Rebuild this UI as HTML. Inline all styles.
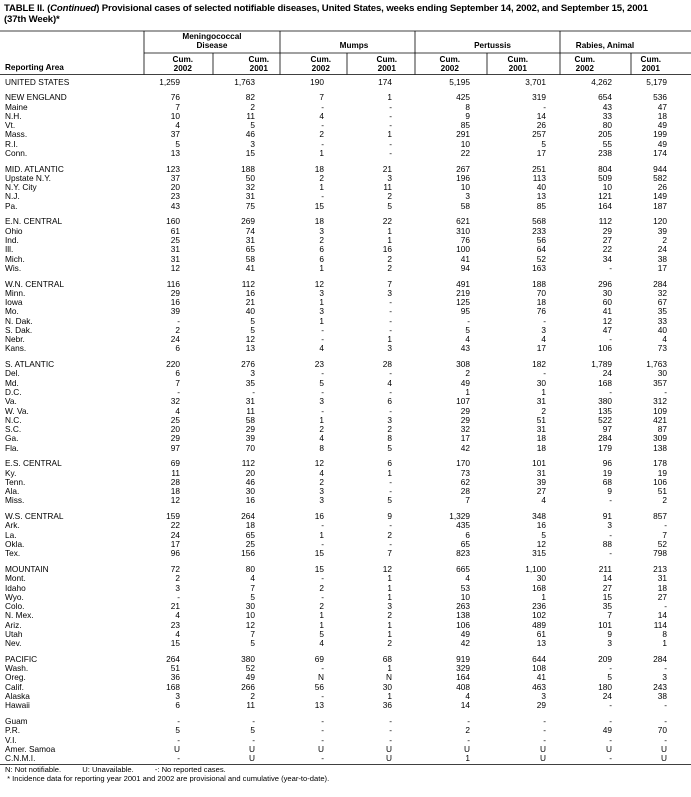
<!DOCTYPE html>
<html><head><meta charset="utf-8"><style>
html,body{margin:0;padding:0;background:#fff;width:691px;height:797px;overflow:hidden;font-family:"Liberation Sans",Arial,sans-serif;color:#000}
.t{position:absolute;left:4px;font-size:9.6px;font-weight:bold;letter-spacing:-0.15px;line-height:11px}
.h{position:absolute;font-size:8.2px;font-weight:bold;text-align:center;line-height:8.6px}
#rows{position:absolute;left:0;top:77.5px;width:691px}
.r{position:relative;height:9.28px;line-height:9.28px;font-size:8.3px}
.r.g{margin-top:6.5px}
.r span{position:absolute;top:0;text-align:right}
.r span.n{left:5px}
.c1{right:511px}.c2{right:436px}.c3{right:367px}.c4{right:299px}.c5{right:221px}.c6{right:145px}.c7{right:79px}.c8{right:24px}
.f{position:absolute;left:5px;font-size:7.6px;line-height:9px}
</style></head><body>
<div class="t" style="top:3px">TABLE II. (<i>Continued</i>) Provisional cases of selected notifiable diseases, United States, weeks ending September 14, 2002, and September 15, 2001</div>
<div class="t" style="top:14px">(37th Week)*</div>
<svg width="691" height="797" style="position:absolute;left:0;top:0" xmlns="http://www.w3.org/2000/svg">
<g stroke="#000" stroke-width="0.8">
<line x1="0" y1="31" x2="691" y2="31"/>
<line x1="0" y1="74.5" x2="691" y2="74.5"/>
<line x1="144" y1="53" x2="691" y2="53"/>
<line x1="144" y1="31" x2="144" y2="74.5"/>
<line x1="280" y1="31" x2="280" y2="74.5"/>
<line x1="415" y1="31" x2="415" y2="74.5"/>
<line x1="560" y1="31" x2="560" y2="74.5"/>
<line x1="213" y1="53" x2="213" y2="74.5"/>
<line x1="347" y1="53" x2="347" y2="74.5"/>
<line x1="487" y1="53" x2="487" y2="74.5"/>
<line x1="631" y1="53" x2="631" y2="74.5"/>
<line x1="0" y1="764.5" x2="691" y2="764.5"/>
</g></svg>
<div class="h" style="left:144px;width:136px;top:33px">Meningococcal<br>Disease</div>
<div class="h" style="left:280px;width:148px;top:42px">Mumps</div>
<div class="h" style="left:415px;width:155px;top:42px">Pertussis</div>
<div class="h" style="left:555px;width:100px;top:42px">Rabies, Animal</div>
<div class="h" style="left:5px;top:64px">Reporting Area</div>
<div class="h" style="right:498px;top:56px">Cum.<br>2002</div>
<div class="h" style="right:422px;top:56px">Cum.<br>2001</div>
<div class="h" style="right:360px;top:56px">Cum.<br>2002</div>
<div class="h" style="right:294px;top:56px">Cum.<br>2001</div>
<div class="h" style="right:231px;top:56px">Cum.<br>2002</div>
<div class="h" style="right:163px;top:56px">Cum.<br>2001</div>
<div class="h" style="right:96px;top:56px">Cum.<br>2002</div>
<div class="h" style="right:30px;top:56px">Cum.<br>2001</div>
<div id="rows">
<div class="r"><span class="n">UNITED STATES</span><span class="c1">1,259</span><span class="c2">1,763</span><span class="c3">190</span><span class="c4">174</span><span class="c5">5,195</span><span class="c6">3,701</span><span class="c7">4,262</span><span class="c8">5,179</span></div>
<div class="r g"><span class="n">NEW ENGLAND</span><span class="c1">76</span><span class="c2">82</span><span class="c3">7</span><span class="c4">1</span><span class="c5">425</span><span class="c6">319</span><span class="c7">654</span><span class="c8">536</span></div>
<div class="r"><span class="n">Maine</span><span class="c1">7</span><span class="c2">2</span><span class="c3">-</span><span class="c4">-</span><span class="c5">8</span><span class="c6">-</span><span class="c7">43</span><span class="c8">47</span></div>
<div class="r"><span class="n">N.H.</span><span class="c1">10</span><span class="c2">11</span><span class="c3">4</span><span class="c4">-</span><span class="c5">9</span><span class="c6">14</span><span class="c7">33</span><span class="c8">18</span></div>
<div class="r"><span class="n">Vt.</span><span class="c1">4</span><span class="c2">5</span><span class="c3">-</span><span class="c4">-</span><span class="c5">85</span><span class="c6">26</span><span class="c7">80</span><span class="c8">49</span></div>
<div class="r"><span class="n">Mass.</span><span class="c1">37</span><span class="c2">46</span><span class="c3">2</span><span class="c4">1</span><span class="c5">291</span><span class="c6">257</span><span class="c7">205</span><span class="c8">199</span></div>
<div class="r"><span class="n">R.I.</span><span class="c1">5</span><span class="c2">3</span><span class="c3">-</span><span class="c4">-</span><span class="c5">10</span><span class="c6">5</span><span class="c7">55</span><span class="c8">49</span></div>
<div class="r"><span class="n">Conn.</span><span class="c1">13</span><span class="c2">15</span><span class="c3">1</span><span class="c4">-</span><span class="c5">22</span><span class="c6">17</span><span class="c7">238</span><span class="c8">174</span></div>
<div class="r g"><span class="n">MID. ATLANTIC</span><span class="c1">123</span><span class="c2">188</span><span class="c3">18</span><span class="c4">21</span><span class="c5">267</span><span class="c6">251</span><span class="c7">804</span><span class="c8">944</span></div>
<div class="r"><span class="n">Upstate N.Y.</span><span class="c1">37</span><span class="c2">50</span><span class="c3">2</span><span class="c4">3</span><span class="c5">196</span><span class="c6">113</span><span class="c7">509</span><span class="c8">582</span></div>
<div class="r"><span class="n">N.Y. City</span><span class="c1">20</span><span class="c2">32</span><span class="c3">1</span><span class="c4">11</span><span class="c5">10</span><span class="c6">40</span><span class="c7">10</span><span class="c8">26</span></div>
<div class="r"><span class="n">N.J.</span><span class="c1">23</span><span class="c2">31</span><span class="c3">-</span><span class="c4">2</span><span class="c5">3</span><span class="c6">13</span><span class="c7">121</span><span class="c8">149</span></div>
<div class="r"><span class="n">Pa.</span><span class="c1">43</span><span class="c2">75</span><span class="c3">15</span><span class="c4">5</span><span class="c5">58</span><span class="c6">85</span><span class="c7">164</span><span class="c8">187</span></div>
<div class="r g"><span class="n">E.N. CENTRAL</span><span class="c1">160</span><span class="c2">269</span><span class="c3">18</span><span class="c4">22</span><span class="c5">621</span><span class="c6">568</span><span class="c7">112</span><span class="c8">120</span></div>
<div class="r"><span class="n">Ohio</span><span class="c1">61</span><span class="c2">74</span><span class="c3">3</span><span class="c4">1</span><span class="c5">310</span><span class="c6">233</span><span class="c7">29</span><span class="c8">39</span></div>
<div class="r"><span class="n">Ind.</span><span class="c1">25</span><span class="c2">31</span><span class="c3">2</span><span class="c4">1</span><span class="c5">76</span><span class="c6">56</span><span class="c7">27</span><span class="c8">2</span></div>
<div class="r"><span class="n">Ill.</span><span class="c1">31</span><span class="c2">65</span><span class="c3">6</span><span class="c4">16</span><span class="c5">100</span><span class="c6">64</span><span class="c7">22</span><span class="c8">24</span></div>
<div class="r"><span class="n">Mich.</span><span class="c1">31</span><span class="c2">58</span><span class="c3">6</span><span class="c4">2</span><span class="c5">41</span><span class="c6">52</span><span class="c7">34</span><span class="c8">38</span></div>
<div class="r"><span class="n">Wis.</span><span class="c1">12</span><span class="c2">41</span><span class="c3">1</span><span class="c4">2</span><span class="c5">94</span><span class="c6">163</span><span class="c7">-</span><span class="c8">17</span></div>
<div class="r g"><span class="n">W.N. CENTRAL</span><span class="c1">116</span><span class="c2">112</span><span class="c3">12</span><span class="c4">7</span><span class="c5">491</span><span class="c6">188</span><span class="c7">296</span><span class="c8">284</span></div>
<div class="r"><span class="n">Minn.</span><span class="c1">29</span><span class="c2">16</span><span class="c3">3</span><span class="c4">3</span><span class="c5">219</span><span class="c6">70</span><span class="c7">30</span><span class="c8">32</span></div>
<div class="r"><span class="n">Iowa</span><span class="c1">16</span><span class="c2">21</span><span class="c3">1</span><span class="c4">-</span><span class="c5">125</span><span class="c6">18</span><span class="c7">60</span><span class="c8">67</span></div>
<div class="r"><span class="n">Mo.</span><span class="c1">39</span><span class="c2">40</span><span class="c3">3</span><span class="c4">-</span><span class="c5">95</span><span class="c6">76</span><span class="c7">41</span><span class="c8">35</span></div>
<div class="r"><span class="n">N. Dak.</span><span class="c1">-</span><span class="c2">5</span><span class="c3">1</span><span class="c4">-</span><span class="c5">-</span><span class="c6">-</span><span class="c7">12</span><span class="c8">33</span></div>
<div class="r"><span class="n">S. Dak.</span><span class="c1">2</span><span class="c2">5</span><span class="c3">-</span><span class="c4">-</span><span class="c5">5</span><span class="c6">3</span><span class="c7">47</span><span class="c8">40</span></div>
<div class="r"><span class="n">Nebr.</span><span class="c1">24</span><span class="c2">12</span><span class="c3">-</span><span class="c4">1</span><span class="c5">4</span><span class="c6">4</span><span class="c7">-</span><span class="c8">4</span></div>
<div class="r"><span class="n">Kans.</span><span class="c1">6</span><span class="c2">13</span><span class="c3">4</span><span class="c4">3</span><span class="c5">43</span><span class="c6">17</span><span class="c7">106</span><span class="c8">73</span></div>
<div class="r g"><span class="n">S. ATLANTIC</span><span class="c1">220</span><span class="c2">276</span><span class="c3">23</span><span class="c4">28</span><span class="c5">308</span><span class="c6">182</span><span class="c7">1,789</span><span class="c8">1,763</span></div>
<div class="r"><span class="n">Del.</span><span class="c1">6</span><span class="c2">3</span><span class="c3">-</span><span class="c4">-</span><span class="c5">2</span><span class="c6">-</span><span class="c7">24</span><span class="c8">30</span></div>
<div class="r"><span class="n">Md.</span><span class="c1">7</span><span class="c2">35</span><span class="c3">5</span><span class="c4">4</span><span class="c5">49</span><span class="c6">30</span><span class="c7">168</span><span class="c8">357</span></div>
<div class="r"><span class="n">D.C.</span><span class="c1">-</span><span class="c2">-</span><span class="c3">-</span><span class="c4">-</span><span class="c5">1</span><span class="c6">1</span><span class="c7">-</span><span class="c8">-</span></div>
<div class="r"><span class="n">Va.</span><span class="c1">32</span><span class="c2">31</span><span class="c3">3</span><span class="c4">6</span><span class="c5">107</span><span class="c6">31</span><span class="c7">380</span><span class="c8">312</span></div>
<div class="r"><span class="n">W. Va.</span><span class="c1">4</span><span class="c2">11</span><span class="c3">-</span><span class="c4">-</span><span class="c5">29</span><span class="c6">2</span><span class="c7">135</span><span class="c8">109</span></div>
<div class="r"><span class="n">N.C.</span><span class="c1">25</span><span class="c2">58</span><span class="c3">1</span><span class="c4">3</span><span class="c5">29</span><span class="c6">51</span><span class="c7">522</span><span class="c8">421</span></div>
<div class="r"><span class="n">S.C.</span><span class="c1">20</span><span class="c2">29</span><span class="c3">2</span><span class="c4">2</span><span class="c5">32</span><span class="c6">31</span><span class="c7">97</span><span class="c8">87</span></div>
<div class="r"><span class="n">Ga.</span><span class="c1">29</span><span class="c2">39</span><span class="c3">4</span><span class="c4">8</span><span class="c5">17</span><span class="c6">18</span><span class="c7">284</span><span class="c8">309</span></div>
<div class="r"><span class="n">Fla.</span><span class="c1">97</span><span class="c2">70</span><span class="c3">8</span><span class="c4">5</span><span class="c5">42</span><span class="c6">18</span><span class="c7">179</span><span class="c8">138</span></div>
<div class="r g"><span class="n">E.S. CENTRAL</span><span class="c1">69</span><span class="c2">112</span><span class="c3">12</span><span class="c4">6</span><span class="c5">170</span><span class="c6">101</span><span class="c7">96</span><span class="c8">178</span></div>
<div class="r"><span class="n">Ky.</span><span class="c1">11</span><span class="c2">20</span><span class="c3">4</span><span class="c4">1</span><span class="c5">73</span><span class="c6">31</span><span class="c7">19</span><span class="c8">19</span></div>
<div class="r"><span class="n">Tenn.</span><span class="c1">28</span><span class="c2">46</span><span class="c3">2</span><span class="c4">-</span><span class="c5">62</span><span class="c6">39</span><span class="c7">68</span><span class="c8">106</span></div>
<div class="r"><span class="n">Ala.</span><span class="c1">18</span><span class="c2">30</span><span class="c3">3</span><span class="c4">-</span><span class="c5">28</span><span class="c6">27</span><span class="c7">9</span><span class="c8">51</span></div>
<div class="r"><span class="n">Miss.</span><span class="c1">12</span><span class="c2">16</span><span class="c3">3</span><span class="c4">5</span><span class="c5">7</span><span class="c6">4</span><span class="c7">-</span><span class="c8">2</span></div>
<div class="r g"><span class="n">W.S. CENTRAL</span><span class="c1">159</span><span class="c2">264</span><span class="c3">16</span><span class="c4">9</span><span class="c5">1,329</span><span class="c6">348</span><span class="c7">91</span><span class="c8">857</span></div>
<div class="r"><span class="n">Ark.</span><span class="c1">22</span><span class="c2">18</span><span class="c3">-</span><span class="c4">-</span><span class="c5">435</span><span class="c6">16</span><span class="c7">3</span><span class="c8">-</span></div>
<div class="r"><span class="n">La.</span><span class="c1">24</span><span class="c2">65</span><span class="c3">1</span><span class="c4">2</span><span class="c5">6</span><span class="c6">5</span><span class="c7">-</span><span class="c8">7</span></div>
<div class="r"><span class="n">Okla.</span><span class="c1">17</span><span class="c2">25</span><span class="c3">-</span><span class="c4">-</span><span class="c5">65</span><span class="c6">12</span><span class="c7">88</span><span class="c8">52</span></div>
<div class="r"><span class="n">Tex.</span><span class="c1">96</span><span class="c2">156</span><span class="c3">15</span><span class="c4">7</span><span class="c5">823</span><span class="c6">315</span><span class="c7">-</span><span class="c8">798</span></div>
<div class="r g"><span class="n">MOUNTAIN</span><span class="c1">72</span><span class="c2">80</span><span class="c3">15</span><span class="c4">12</span><span class="c5">665</span><span class="c6">1,100</span><span class="c7">211</span><span class="c8">213</span></div>
<div class="r"><span class="n">Mont.</span><span class="c1">2</span><span class="c2">4</span><span class="c3">-</span><span class="c4">1</span><span class="c5">4</span><span class="c6">30</span><span class="c7">14</span><span class="c8">31</span></div>
<div class="r"><span class="n">Idaho</span><span class="c1">3</span><span class="c2">7</span><span class="c3">2</span><span class="c4">1</span><span class="c5">53</span><span class="c6">168</span><span class="c7">27</span><span class="c8">18</span></div>
<div class="r"><span class="n">Wyo.</span><span class="c1">-</span><span class="c2">5</span><span class="c3">-</span><span class="c4">1</span><span class="c5">10</span><span class="c6">1</span><span class="c7">15</span><span class="c8">27</span></div>
<div class="r"><span class="n">Colo.</span><span class="c1">21</span><span class="c2">30</span><span class="c3">2</span><span class="c4">3</span><span class="c5">263</span><span class="c6">236</span><span class="c7">35</span><span class="c8">-</span></div>
<div class="r"><span class="n">N. Mex.</span><span class="c1">4</span><span class="c2">10</span><span class="c3">1</span><span class="c4">2</span><span class="c5">138</span><span class="c6">102</span><span class="c7">7</span><span class="c8">14</span></div>
<div class="r"><span class="n">Ariz.</span><span class="c1">23</span><span class="c2">12</span><span class="c3">1</span><span class="c4">1</span><span class="c5">106</span><span class="c6">489</span><span class="c7">101</span><span class="c8">114</span></div>
<div class="r"><span class="n">Utah</span><span class="c1">4</span><span class="c2">7</span><span class="c3">5</span><span class="c4">1</span><span class="c5">49</span><span class="c6">61</span><span class="c7">9</span><span class="c8">8</span></div>
<div class="r"><span class="n">Nev.</span><span class="c1">15</span><span class="c2">5</span><span class="c3">4</span><span class="c4">2</span><span class="c5">42</span><span class="c6">13</span><span class="c7">3</span><span class="c8">1</span></div>
<div class="r g"><span class="n">PACIFIC</span><span class="c1">264</span><span class="c2">380</span><span class="c3">69</span><span class="c4">68</span><span class="c5">919</span><span class="c6">644</span><span class="c7">209</span><span class="c8">284</span></div>
<div class="r"><span class="n">Wash.</span><span class="c1">51</span><span class="c2">52</span><span class="c3">-</span><span class="c4">1</span><span class="c5">329</span><span class="c6">108</span><span class="c7">-</span><span class="c8">-</span></div>
<div class="r"><span class="n">Oreg.</span><span class="c1">36</span><span class="c2">49</span><span class="c3">N</span><span class="c4">N</span><span class="c5">164</span><span class="c6">41</span><span class="c7">5</span><span class="c8">3</span></div>
<div class="r"><span class="n">Calif.</span><span class="c1">168</span><span class="c2">266</span><span class="c3">56</span><span class="c4">30</span><span class="c5">408</span><span class="c6">463</span><span class="c7">180</span><span class="c8">243</span></div>
<div class="r"><span class="n">Alaska</span><span class="c1">3</span><span class="c2">2</span><span class="c3">-</span><span class="c4">1</span><span class="c5">4</span><span class="c6">3</span><span class="c7">24</span><span class="c8">38</span></div>
<div class="r"><span class="n">Hawaii</span><span class="c1">6</span><span class="c2">11</span><span class="c3">13</span><span class="c4">36</span><span class="c5">14</span><span class="c6">29</span><span class="c7">-</span><span class="c8">-</span></div>
<div class="r g"><span class="n">Guam</span><span class="c1">-</span><span class="c2">-</span><span class="c3">-</span><span class="c4">-</span><span class="c5">-</span><span class="c6">-</span><span class="c7">-</span><span class="c8">-</span></div>
<div class="r"><span class="n">P.R.</span><span class="c1">5</span><span class="c2">5</span><span class="c3">-</span><span class="c4">-</span><span class="c5">2</span><span class="c6">-</span><span class="c7">49</span><span class="c8">70</span></div>
<div class="r"><span class="n">V.I.</span><span class="c1">-</span><span class="c2">-</span><span class="c3">-</span><span class="c4">-</span><span class="c5">-</span><span class="c6">-</span><span class="c7">-</span><span class="c8">-</span></div>
<div class="r"><span class="n">Amer. Samoa</span><span class="c1">U</span><span class="c2">U</span><span class="c3">U</span><span class="c4">U</span><span class="c5">U</span><span class="c6">U</span><span class="c7">U</span><span class="c8">U</span></div>
<div class="r"><span class="n">C.N.M.I.</span><span class="c1">-</span><span class="c2">U</span><span class="c3">-</span><span class="c4">U</span><span class="c5">1</span><span class="c6">U</span><span class="c7">-</span><span class="c8">U</span></div>
</div>
<div class="f" style="top:765px">N: Not notifiable.&nbsp;&nbsp;&nbsp;&nbsp;&nbsp;&nbsp;&nbsp;&nbsp;&nbsp;&nbsp;U: Unavailable.&nbsp;&nbsp;&nbsp;&nbsp;&nbsp;&nbsp;&nbsp;&nbsp;&nbsp;&nbsp;-: No reported cases.</div>
<div class="f" style="top:774px">&nbsp;* Incidence data for reporting year 2001 and 2002 are provisional and cumulative (year-to-date).</div>
</body></html>
